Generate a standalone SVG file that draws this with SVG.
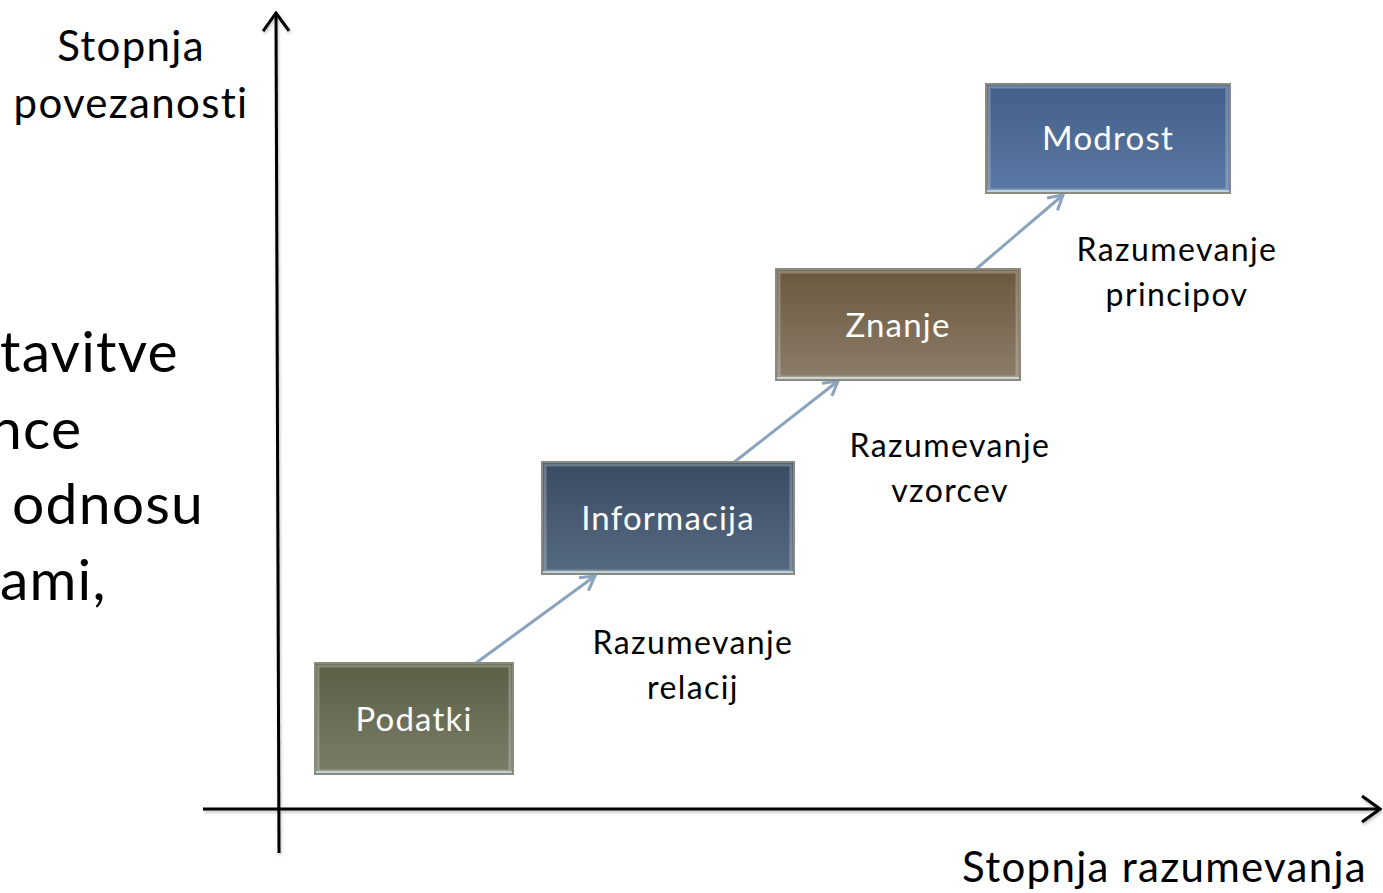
<svg xmlns="http://www.w3.org/2000/svg" width="1383" height="893" viewBox="0 0 1383 893">
<style>
.lbl{font-family:Lato,"Liberation Sans",sans-serif;font-size:32px;letter-spacing:1.4px;fill:#000;text-anchor:middle}
.big{font-family:Lato,"Liberation Sans",sans-serif;font-size:42px;letter-spacing:1.3px;fill:#000}
.side{font-family:Lato,"Liberation Sans",sans-serif;font-size:57px;letter-spacing:1.2px;fill:#000}
.nt{font-family:Lato,"Liberation Sans",sans-serif;font-size:33px;letter-spacing:1.2px;fill:#fff;text-anchor:middle}
.box{stroke:#8a8a80;stroke-width:2}
.bev{fill:none;stroke:#ffffff;stroke-opacity:0.25;stroke-width:3}
.axis{stroke:#000;stroke-width:3;fill:none}
.con{stroke:#8ba3bd;stroke-width:3;fill:none}
</style>
<defs>
<linearGradient id="gP" x1="0" y1="0" x2="0" y2="1"><stop offset="0" stop-color="#5b5f46"/><stop offset="1" stop-color="#7b7d68"/></linearGradient>
<linearGradient id="gI" x1="0" y1="0" x2="0" y2="1"><stop offset="0" stop-color="#3a4c63"/><stop offset="1" stop-color="#566a82"/></linearGradient>
<linearGradient id="gZ" x1="0" y1="0" x2="0" y2="1"><stop offset="0" stop-color="#6b583e"/><stop offset="1" stop-color="#8c7d6a"/></linearGradient>
<linearGradient id="gM" x1="0" y1="0" x2="0" y2="1"><stop offset="0" stop-color="#435f89"/><stop offset="1" stop-color="#5b79a5"/></linearGradient>
<marker id="ah" viewBox="0 0 20 20" refX="18" refY="10" markerWidth="20" markerHeight="20" markerUnits="userSpaceOnUse" orient="auto">
<path d="M4,2 L18,10 L4,18" fill="none" stroke="#8ba3bd" stroke-width="3"/>
</marker>
<marker id="ax" viewBox="0 0 24 30" refX="22" refY="15" markerWidth="24" markerHeight="30" markerUnits="userSpaceOnUse" orient="auto">
<path d="M4,2 L22,15 L4,28" fill="none" stroke="#000" stroke-width="3"/>
</marker>
<filter id="sh" x="-5%" y="-5%" width="110%" height="110%"><feDropShadow dx="1" dy="2" stdDeviation="1.5" flood-color="#000" flood-opacity="0.25"/></filter>
</defs>
<rect width="1383" height="893" fill="#fff"/>

<g id="side-text">
<text class="side" x="0" y="372">tavitve</text>
<text class="side" x="-10" y="449">nce</text>
<text class="side" x="12" y="524">odnosu</text>
<text class="side" x="0" y="600">ami,</text>
</g>

<g id="axes" filter="url(#sh)">
<line class="axis" x1="279" y1="853" x2="276" y2="13" marker-end="url(#ax)"/>
<line class="axis" x1="203" y1="809" x2="1380" y2="809" marker-end="url(#ax)"/>
</g>
<g id="axis-labels">
<text class="big" x="131" y="61" text-anchor="middle">Stopnja</text>
<text class="big" x="131" y="118" text-anchor="middle">povezanosti</text>
<text class="big" x="1367" y="882" text-anchor="end">Stopnja razumevanja</text>
</g>

<g id="connectors">
<line class="con" x1="476" y1="663" x2="595" y2="576" marker-end="url(#ah)"/>
<line class="con" x1="733" y1="463" x2="838" y2="381" marker-end="url(#ah)"/>
<line class="con" x1="975" y1="270" x2="1063" y2="195" marker-end="url(#ah)"/>
</g>

<g id="podatki">
<rect class="box" x="315" y="663" width="198" height="111" fill="url(#gP)"/>
<rect class="bev" x="318" y="666" width="192" height="105"/>
<line x1="316" y1="772" x2="512" y2="772" stroke="#b8d4d0" stroke-width="2"/>
<text class="nt" x="414" y="731">Podatki</text>
</g>
<g id="informacija">
<rect class="box" x="542" y="462" width="252" height="112" fill="url(#gI)"/>
<rect class="bev" x="545" y="465" width="246" height="106"/>
<line x1="543" y1="572" x2="793" y2="572" stroke="#b8d4d8" stroke-width="2"/>
<text class="nt" x="668" y="530">Informacija</text>
</g>
<g id="znanje">
<rect class="box" x="776" y="269" width="244" height="111" fill="url(#gZ)"/>
<rect class="bev" x="779" y="272" width="238" height="105"/>
<line x1="777" y1="378" x2="1019" y2="378" stroke="#c8d8d0" stroke-width="2"/>
<text class="nt" x="898" y="337">Znanje</text>
</g>
<g id="modrost">
<rect class="box" x="986" y="84" width="244" height="109" fill="url(#gM)"/>
<rect class="bev" x="989" y="87" width="238" height="103"/>
<line x1="987" y1="191" x2="1229" y2="191" stroke="#b8d4e0" stroke-width="2"/>
<text class="nt" x="1108" y="150">Modrost</text>
</g>

<g id="labels">
<text class="lbl" x="693" y="654">Razumevanje</text>
<text class="lbl" x="693" y="699">relacij</text>
<text class="lbl" x="950" y="457">Razumevanje</text>
<text class="lbl" x="950" y="502">vzorcev</text>
<text class="lbl" x="1177" y="261">Razumevanje</text>
<text class="lbl" x="1177" y="306">principov</text>
</g>
</svg>
